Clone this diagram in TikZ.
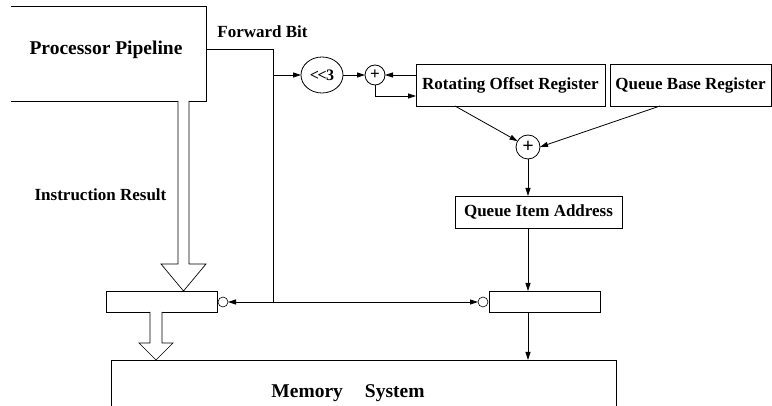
\documentclass[tikz,border=0pt]{standalone}
\usepackage{fontspec}
\setmainfont{Liberation Serif}
\usetikzlibrary{arrows.meta,calc,shapes.geometric}
\begin{document}
\begin{tikzpicture}[x=1pt,y=1pt,
  line width=0.8pt,
  lbl/.style={font=\fontsize{17}{20}\selectfont\bfseries},
  biglbl/.style={font=\fontsize{19.5}{22}\selectfont\bfseries},
  box/.style={draw, rectangle, inner sep=0pt, outer sep=0pt, lbl},
  frame/.style={rectangle, inner sep=0pt, outer sep=0pt},
  ring/.style={draw, circle, inner sep=0pt, outer sep=0pt, font=\fontsize{#1}{#1}\selectfont\bfseries},
  bubble/.style={draw, circle, minimum size=10pt, inner sep=0pt, outer sep=0pt, line width=0.6pt},
  conn/.style={-{Triangle[length=8pt,width=5pt]}},
  hollow/.style={draw, fill=white, line width=0.7pt, line join=miter},
]
\useasboundingbox (0,0) rectangle (772,-406);

% pipeline block (open on the left)
\node[frame, minimum width=195pt, minimum height=95pt, anchor=north west] (pipe) at (11,-6) {};
\draw (pipe.north west) -- (pipe.north east) -- (pipe.south east) -- (pipe.south west);
\node[biglbl, anchor=base] (pipetext) at (106,-55) {Processor Pipeline};

% address generation
\node[box, minimum width=189pt, minimum height=42pt, anchor=north west] (ror) at (416,-64) {Rotating Offset Register};
\node[box, minimum width=161pt, minimum height=42pt, anchor=north west] (qbr) at (610,-64) {Queue Base Register};
\node[draw, ellipse, minimum width=42pt, minimum height=36pt, inner sep=0pt, outer sep=0pt,
      font=\fontsize{16}{16}\selectfont\bfseries] (sh) at (322,-75) {<\kern-1.5pt<\kern-0.5pt3};
\node[ring=17, minimum size=20pt] (p1) at (375,-75) {+};
\node[ring=20, minimum size=24pt] (p2) at (528,-147) {+};
\node[box, minimum width=167pt, minimum height=32pt, anchor=north west] (qia) at (455,-196) {Queue Item Address};

% latches
\node[box, minimum width=111pt, minimum height=21pt, anchor=north west] (lreg) at (106,-291) {};
\node[box, minimum width=111pt, minimum height=21pt, anchor=north west] (rreg) at (489,-291) {};
\node[bubble] (lb) at (223,-302) {};
\node[bubble] (rb) at (483,-302) {};

% memory (open at the bottom)
\node[frame, minimum width=505pt, minimum height=50pt, anchor=north west] (mem) at (111,-360) {};
\draw (mem.south west) -- (mem.north west) -- (mem.north east) -- (mem.south east);
\node[biglbl, anchor=base] (memtext) at (348,-398) {Memory\hspace{22pt}System};

% labels
\node[lbl, anchor=base west, inner sep=0pt] (fbtext) at (217,-38) {Forward Bit};
\node[lbl, anchor=base] (irtext) at (100.5,-201) {Instruction Result};

% forward bit wiring
\coordinate (fb) at (273,-49);
\draw (pipe.east |- fb) -- (fb) -- (fb |- lb) coordinate (fbj);
\draw[conn] (fb |- sh) -- (sh.west);
\draw[conn] (fbj) -- (lb.east);
\draw[conn] (fbj) -- (rb.west);

% offset update loop
\draw[conn] (sh.east) -- (p1.west);
\draw[conn] (ror.west |- p1) -- (p1.east);
\draw[conn] (p1.south) |- ([yshift=-11pt]ror.west);

% address sum and path to memory
\draw[conn] ([xshift=39pt]ror.south west) -- (p2);
\draw[conn] ([xshift=50pt]qbr.south west) -- (p2.east);
\draw[conn] (p2.south) -- (p2.south |- qia.north);
\draw[conn] (p2 |- qia.south) -- (p2 |- rreg.north);
\draw[conn] (p2 |- rreg.south) -- (p2 |- mem.north);

% wide data arrows
\coordinate (btip) at ([xshift=22pt]lreg.north);
\path[hollow] let \p1=(btip), \p2=(pipe.south) in
  (\x1-5.5pt,\y2) -- (\x1-5.5pt,\y1+27pt) -- (\x1-22.5pt,\y1+27pt) -- (\x1,\y1)
  -- (\x1+22.5pt,\y1+27pt) -- (\x1+5.5pt,\y1+27pt) -- (\x1+5.5pt,\y2);
\coordinate (stip) at ([xshift=-5.5pt]lreg.south |- mem.north);
\path[hollow] let \p1=(stip), \p2=(lreg.south) in
  (\x1-6pt,\y2) -- (\x1-6pt,\y1+17pt) -- (\x1-17pt,\y1+17pt) -- (\x1,\y1)
  -- (\x1+17pt,\y1+17pt) -- (\x1+6pt,\y1+17pt) -- (\x1+6pt,\y2);
\end{tikzpicture}
\end{document}
